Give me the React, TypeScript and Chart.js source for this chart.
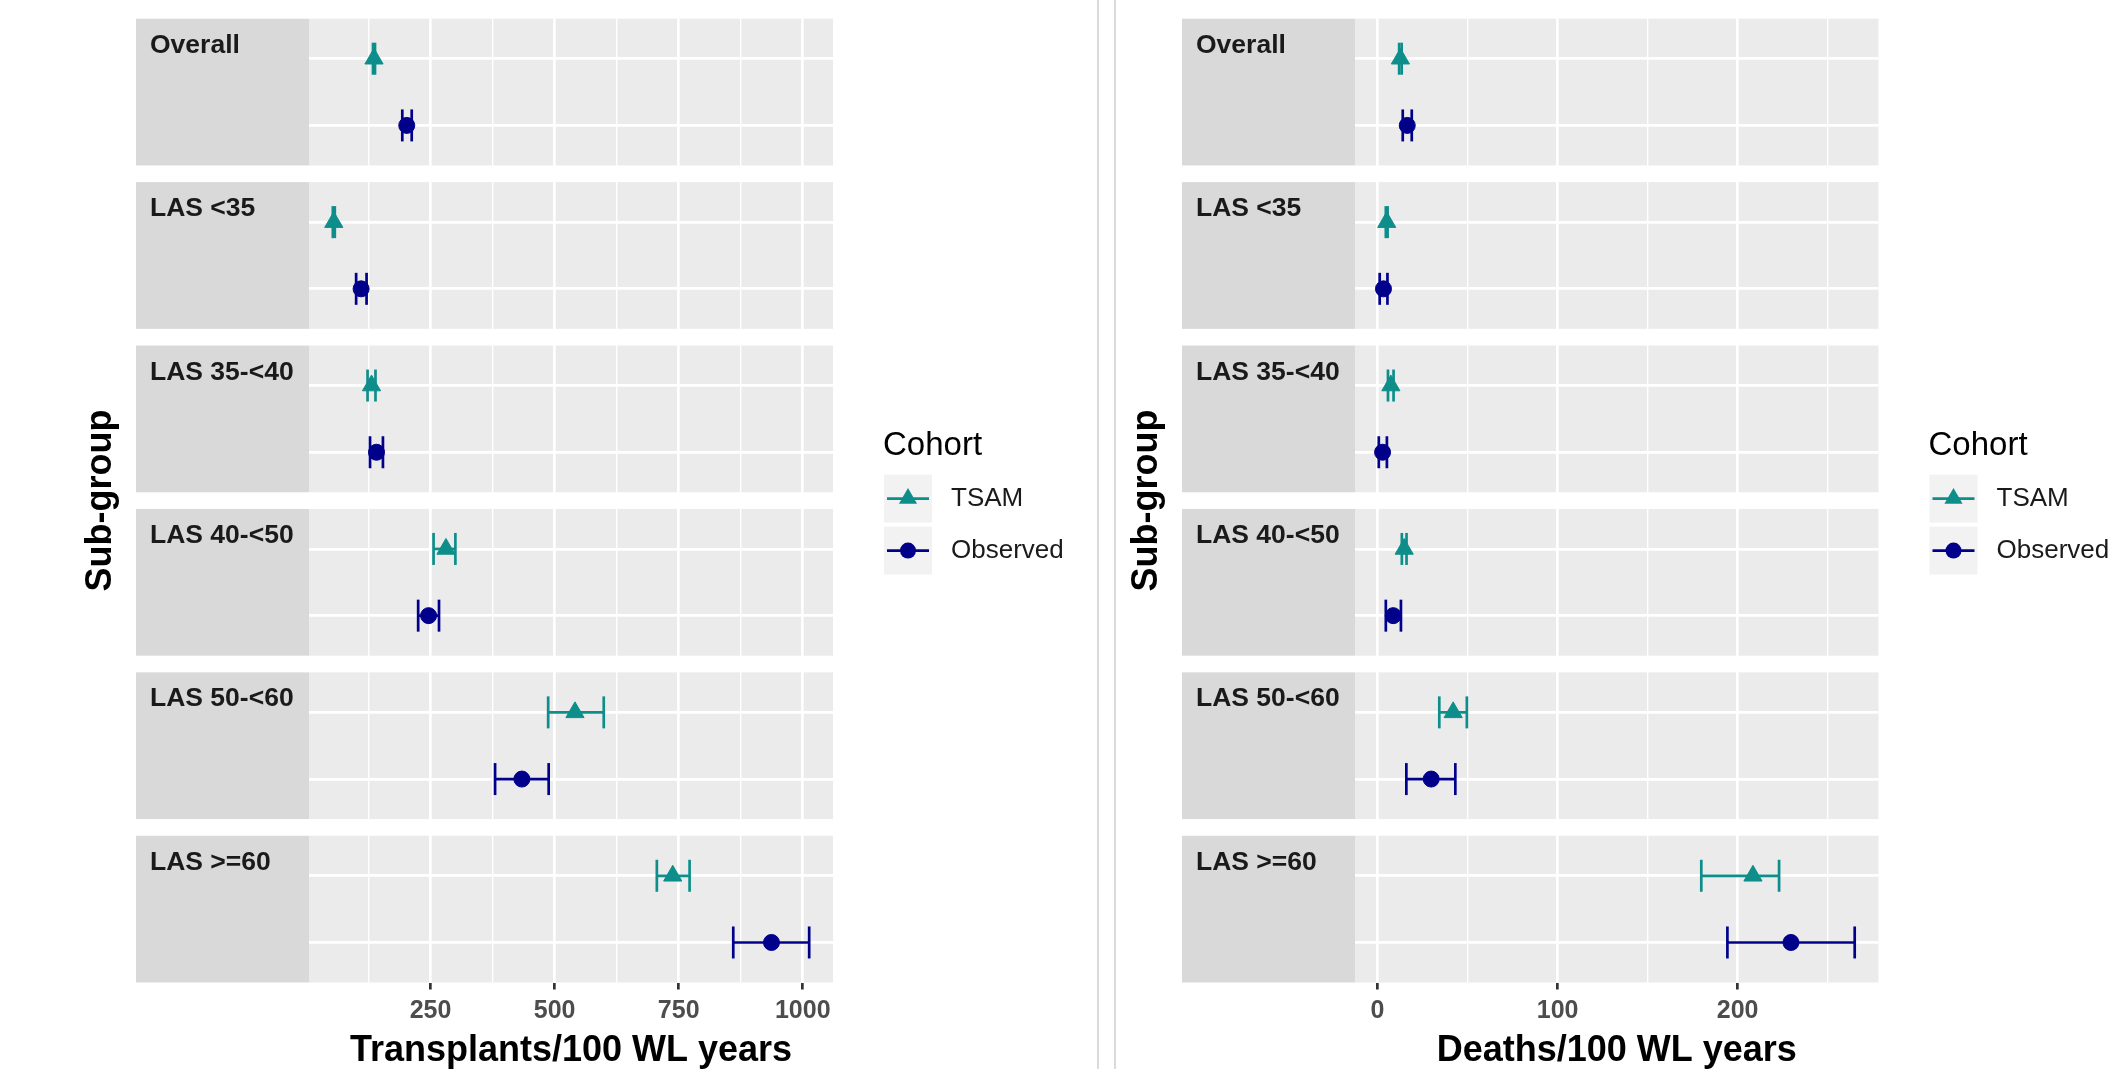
import React, { useEffect, useRef } from 'react';
import { Chart, registerables } from 'chart.js';

Chart.register(...registerables);

// ---------- data ----------
const SUBGROUPS = ['Overall', 'LAS <35', 'LAS 35-<40', 'LAS 40-<50', 'LAS 50-<60', 'LAS >=60'];
const COHORTS = ['TSAM', 'Observed'];

// Transplants / 100 WL years
const TX_TSAM = [136, 55, 131, 281, 541, 738];
const TX_TSAM_LO = [134, 53, 123, 256, 487, 706];
const TX_TSAM_HI = [138, 57, 139, 300, 599, 772];
const TX_OBS = [202, 110, 141, 246, 434, 937];
const TX_OBS_LO = [193, 100, 128, 225, 380, 860];
const TX_OBS_HI = [212, 121, 154, 267, 488, 1013];
const TX_MAJOR_TICKS = [250, 500, 750, 1000];
const TX_MINOR_TICKS = [125, 375, 625, 875];

// Deaths / 100 WL years
const D_TSAM = [12.7, 5.1, 7.4, 14.8, 42, 208.5];
const D_TSAM_LO = [12.0, 4.6, 5.8, 13.5, 34.3, 179.8];
const D_TSAM_HI = [13.4, 5.6, 8.9, 16.1, 49.6, 223];
const D_OBS = [16.5, 3.3, 2.8, 8.7, 29.8, 229.6];
const D_OBS_LO = [14, 1.2, 0.7, 4.6, 16, 194.3];
const D_OBS_HI = [19, 5.5, 5.2, 13, 43.2, 265];
const D_MAJOR_TICKS = [0, 100, 200];
const D_MINOR_TICKS = [50, 150, 250];

// ---------- style ----------
const TEAL = '#0E8E8A';
const NAVY = '#00008B';
const FONT = '"Liberation Sans", Arial, Helvetica, sans-serif';
const PANEL = 2.2; // panel height in y units (two levels with 0.6 expansion)
const GAP = 0.25; // gap between panels in y units
const N = SUBGROUPS.length;
const Y_MAX = N * PANEL + (N - 1) * GAP;
const levelY = (i: number, k: number) => i * (PANEL + GAP) + 0.6 + k;

type Props = {
  left: number;
  width: number;
  height: number;
  areaLeft: number;
  areaRight: number;
  stripLeft: number;
  titleX: number;
  xTitle: string;
  tsam: number[];
  tsamLo: number[];
  tsamHi: number[];
  obs: number[];
  obsLo: number[];
  obsHi: number[];
  major: number[];
  minor: number[];
};

function drawMarker(ctx: CanvasRenderingContext2D, style: string, x: number, y: number, r: number, color: string) {
  ctx.fillStyle = color;
  ctx.beginPath();
  if (style === 'triangle') {
    ctx.moveTo(x, y - r);
    ctx.lineTo(x + (r * Math.sqrt(3)) / 2, y + r / 2);
    ctx.lineTo(x - (r * Math.sqrt(3)) / 2, y + r / 2);
    ctx.closePath();
  } else {
    ctx.arc(x, y, r, 0, Math.PI * 2);
  }
  ctx.fill();
}

function ForestChart(p: Props) {
  const ref = useRef<HTMLCanvasElement | null>(null);

  useEffect(() => {
    const canvas = ref.current;
    if (!canvas) return;
    const lo = Math.min(...p.tsamLo, ...p.obsLo);
    const hi = Math.max(...p.tsamHi, ...p.obsHi);
    const pad = (hi - lo) * 0.05;
    const xMin = lo - pad;
    const xMax = hi + pad;
    const gridTicks = [...p.major, ...p.minor].filter((v) => v >= xMin && v <= xMax).sort((a, b) => a - b);
    const yTicks: number[] = [];
    SUBGROUPS.forEach((_, i) => {
      yTicks.push(levelY(i, 0), levelY(i, 1));
    });
    const isMajor = (v: any) => p.major.includes(v);

    const series = [
      { name: COHORTS[0], color: TEAL, style: 'triangle', radius: 10.5, est: p.tsam, lo: p.tsamLo, hi: p.tsamHi, k: 0 },
      { name: COHORTS[1], color: NAVY, style: 'circle', radius: 8, est: p.obs, lo: p.obsLo, hi: p.obsHi, k: 1 },
    ];

    const datasets: any[] = [];
    series.forEach((s) => {
      SUBGROUPS.forEach((g, i) => {
        datasets.push({
          label: `${s.name} CI ${g}`,
          data: [
            { x: s.lo[i], y: levelY(i, s.k) },
            { x: s.hi[i], y: levelY(i, s.k) },
          ],
          showLine: true,
          borderColor: s.color,
          borderWidth: 2.7,
          pointStyle: 'line',
          pointRotation: 90,
          pointRadius: 16,
          pointHoverRadius: 16,
          pointBorderColor: s.color,
          pointBorderWidth: 2.7,
          order: 2,
          clip: false,
        });
      });
    });
    series.forEach((s) => {
      datasets.push({
        label: s.name,
        data: s.est.map((v, i) => ({ x: v, y: levelY(i, s.k) })),
        showLine: false,
        pointStyle: s.style,
        pointRadius: s.radius,
        pointHoverRadius: s.radius,
        backgroundColor: s.color,
        borderColor: s.color,
        pointBackgroundColor: s.color,
        pointBorderColor: s.color,
        pointBorderWidth: 1,
        order: 1,
        clip: false,
      });
    });

    const decor = {
      id: 'decor',
      beforeDraw(chart: any) {
        const { ctx, chartArea, scales } = chart;
        const y = scales.y;
        ctx.save();
        SUBGROUPS.forEach((g, i) => {
          const top = y.getPixelForValue(i * (PANEL + GAP));
          const bot = y.getPixelForValue(i * (PANEL + GAP) + PANEL);
          ctx.fillStyle = '#EBEBEB';
          ctx.fillRect(chartArea.left, top, chartArea.right - chartArea.left, bot - top);
          ctx.fillStyle = '#D9D9D9';
          ctx.fillRect(p.stripLeft, top, chartArea.left - p.stripLeft, bot - top);
          ctx.fillStyle = '#1A1A1A';
          ctx.font = `bold 26.5px ${FONT}`;
          ctx.textAlign = 'left';
          ctx.textBaseline = 'alphabetic';
          ctx.fillText(g, p.stripLeft + 14, top + 34);
        });
        ctx.restore();
      },
      afterDraw(chart: any) {
        const { ctx, chartArea } = chart;
        const cx = chartArea.right + 50;
        const cy = (chartArea.top + chartArea.bottom) / 2;
        ctx.save();
        ctx.fillStyle = '#000000';
        ctx.font = `33px ${FONT}`;
        ctx.textAlign = 'left';
        ctx.textBaseline = 'alphabetic';
        ctx.fillText('Cohort', cx, cy - 46);
        series.forEach((s, j) => {
          const keyTop = cy - 26 + j * 52;
          const kc = keyTop + 24;
          ctx.fillStyle = '#F2F2F2';
          ctx.fillRect(cx + 1, keyTop, 48, 48);
          ctx.strokeStyle = s.color;
          ctx.lineWidth = 2.7;
          ctx.beginPath();
          ctx.moveTo(cx + 4, kc);
          ctx.lineTo(cx + 46, kc);
          ctx.stroke();
          drawMarker(ctx, s.style, cx + 25, kc, s.style === 'triangle' ? 10.5 : 8, s.color);
          ctx.fillStyle = '#1A1A1A';
          ctx.font = `26px ${FONT}`;
          ctx.textBaseline = 'middle';
          ctx.fillText(s.name, cx + 68, kc);
        });
        ctx.restore();
      },
    };

    const chart = new Chart(canvas, {
      type: 'scatter',
      data: { datasets },
      options: {
        responsive: false,
        maintainAspectRatio: false,
        animation: false,
        events: [],
        layout: {
          padding: { left: 0, right: p.width - p.areaRight, top: 17.5, bottom: 0 },
        },
        plugins: {
          legend: { display: false },
          tooltip: { enabled: false },
        },
        scales: {
          x: {
            type: 'linear',
            min: xMin,
            max: xMax,
            afterBuildTicks: (axis: any) => {
              axis.ticks = gridTicks.map((v) => ({ value: v }));
            },
            afterFit: (axis: any) => {
              axis.height = p.height - 982.5;
            },
            border: { display: false },
            grid: {
              color: '#FFFFFF',
              lineWidth: (c: any) => (isMajor(c.tick && c.tick.value) ? 2.7 : 1.35),
              drawTicks: true,
              tickLength: 7,
              tickColor: (c: any) => (isMajor(c.tick && c.tick.value) ? '#333333' : 'rgba(0,0,0,0)'),
              tickWidth: 2.7,
            },
            ticks: {
              autoSkip: false,
              maxRotation: 0,
              minRotation: 0,
              padding: 7,
              color: '#4D4D4D',
              font: { family: FONT, size: 25, weight: 'bold' },
              callback: (v: any) => (isMajor(v) ? String(v) : ''),
            },
            title: {
              display: true,
              text: p.xTitle,
              color: '#000000',
              font: { family: FONT, size: 36, weight: 'bold' },
              padding: { top: 0, bottom: -4 },
            },
          },
          y: {
            type: 'linear',
            reverse: true,
            min: 0,
            max: Y_MAX,
            afterBuildTicks: (axis: any) => {
              axis.ticks = yTicks.map((v) => ({ value: v }));
            },
            afterFit: (axis: any) => {
              axis.width = p.areaLeft;
            },
            border: { display: false },
            grid: { color: '#FFFFFF', lineWidth: 2.7, drawTicks: false },
            ticks: { display: false },
            title: {
              display: true,
              text: 'Sub-group',
              color: '#000000',
              font: { family: FONT, size: 36, weight: 'bold' },
              padding: { top: p.titleX - 21.6, bottom: 0 },
            },
          },
        },
      },
      plugins: [decor],
    } as any);

    return () => chart.destroy();
  }, []);

  return (
    <canvas
      ref={ref}
      width={p.width}
      height={p.height}
      style={{ position: 'absolute', left: p.left, top: 0, width: p.width, height: p.height, display: 'block' }}
    />
  );
}

export default function App() {
  return (
    <div style={{ position: 'absolute', left: 0, top: 0, width: 2116, height: 1069, background: '#FFFFFF', overflow: 'hidden' }}>
      <ForestChart
        left={0}
        width={1097}
        height={1069}
        areaLeft={309}
        areaRight={833}
        stripLeft={136}
        titleX={101}
        xTitle="Transplants/100 WL years"
        tsam={TX_TSAM}
        tsamLo={TX_TSAM_LO}
        tsamHi={TX_TSAM_HI}
        obs={TX_OBS}
        obsLo={TX_OBS_LO}
        obsHi={TX_OBS_HI}
        major={TX_MAJOR_TICKS}
        minor={TX_MINOR_TICKS}
      />
      <ForestChart
        left={1116}
        width={1000}
        height={1069}
        areaLeft={239}
        areaRight={762.5}
        stripLeft={66}
        titleX={31}
        xTitle="Deaths/100 WL years"
        tsam={D_TSAM}
        tsamLo={D_TSAM_LO}
        tsamHi={D_TSAM_HI}
        obs={D_OBS}
        obsLo={D_OBS_LO}
        obsHi={D_OBS_HI}
        major={D_MAJOR_TICKS}
        minor={D_MINOR_TICKS}
      />
      <div style={{ position: 'absolute', left: 1097, top: 0, width: 2, height: 1069, background: '#DADADA' }} />
      <div style={{ position: 'absolute', left: 1114, top: 0, width: 2, height: 1069, background: '#DADADA' }} />
    </div>
  );
}
